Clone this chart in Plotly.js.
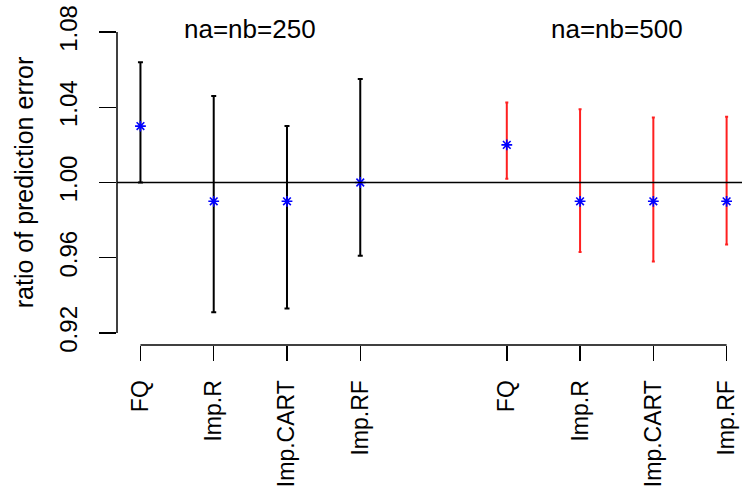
<!DOCTYPE html>
<html>
<head>
<meta charset="utf-8">
<script src="https://cdn.plot.ly/plotly-3.0.1.min.js"></script>
<style>html,body{margin:0;padding:0;background:#fff;}#chart{width:742px;height:488px;}</style>
</head>
<body>
<div id="chart"></div>
<script>
// ---- data ----
const methods = ['FQ', 'Imp.R', 'Imp.CART', 'Imp.RF'];
const pos250 = [1, 2, 3, 4];
const pos500 = [6, 7, 8, 9];
const est250 = [1.030, 0.990, 0.990, 1.000];
const lo250  = [1.000, 0.931, 0.933, 0.961];
const hi250  = [1.064, 1.046, 1.030, 1.055];
const est500 = [1.020, 0.990, 0.990, 0.990];
const lo500  = [1.002, 0.963, 0.958, 0.967];
const hi500  = [1.0425, 1.039, 1.0345, 1.035];
const groupTitles = ['na=nb=250', 'na=nb=500'];
const groupCenters = [2.5, 7.5];
const yTicks = [0.92, 0.96, 1.00, 1.04, 1.08];
const yTickText = ['0.92', '0.96', '1.00', '1.04', '1.08'];
const refLine = 1.0;

const FONT = '"Liberation Sans", Arial, Helvetica, sans-serif';

function errTrace(x, est, lo, hi, color, capw) {
  return {
    type: 'scatter', mode: 'markers', x: x, y: est,
    marker: {symbol: 'asterisk-open', size: 9, color: 'blue', line: {color: 'blue', width: 1.6}},
    error_y: {
      type: 'data', symmetric: false,
      array: hi.map((h, i) => h - est[i]),
      arrayminus: lo.map((l, i) => est[i] - l),
      color: color, thickness: 2, width: capw
    },
    showlegend: false, hoverinfo: 'skip'
  };
}

const traces = [
  errTrace(pos250, est250, lo250, hi250, 'black', 2.5),
  errTrace(pos500, est500, lo500, hi500, '#ff2020', 1.5)
];

const allPos = pos250.concat(pos500);

const layout = {
  width: 742, height: 488,
  margin: {l: 117, r: 0, t: 20, b: 143},
  paper_bgcolor: '#fff', plot_bgcolor: '#fff',
  font: {family: FONT, color: 'black'},
  showlegend: false,
  xaxis: {
    range: [0.68, 9.21],
    tickmode: 'array', tickvals: allPos, ticktext: methods.concat(methods),
    tickangle: -90, ticks: 'outside', ticklen: 15, tickwidth: 1.5, tickcolor: 'black',
    tickfont: {size: 23, family: FONT, color: 'black'},
    ticklabelstandoff: 10,
    showline: false, showgrid: false, zeroline: false
  },
  yaxis: {
    range: [0.9136, 1.0864],
    tickmode: 'array', tickvals: yTicks, ticktext: yTickText,
    tickangle: -90, ticks: 'outside', ticklen: 17, tickwidth: 1.5, tickcolor: 'black',
    tickfont: {size: 24, family: FONT, color: 'black'},
    ticklabelstandoff: 12,
    showline: false, showgrid: false, zeroline: false,
    title: {text: 'ratio of prediction error', font: {size: 25, family: FONT, color: 'black'}, standoff: 14}
  },
  shapes: [
    {type: 'line', xref: 'paper', yref: 'y', x0: 0, x1: 1, y0: refLine, y1: refLine,
     line: {color: 'black', width: 1.5}},
    {type: 'line', xref: 'x', yref: 'paper', x0: Math.min(...allPos), x1: Math.max(...allPos), y0: 0, y1: 0,
     line: {color: 'black', width: 1.5}},
    {type: 'line', xref: 'paper', yref: 'y', x0: 0, x1: 0, y0: yTicks[0], y1: yTicks[yTicks.length - 1],
     line: {color: 'black', width: 1.5}}
  ],
  annotations: groupTitles.map((t, i) => ({
    text: t, x: groupCenters[i], y: 1.0816, xref: 'x', yref: 'y',
    xanchor: 'center', yanchor: 'middle', showarrow: false,
    font: {size: 26, family: FONT, color: 'black'}
  }))
};

Plotly.newPlot('chart', traces, layout, {displayModeBar: false, staticPlot: true});
</script>
</body>
</html>
